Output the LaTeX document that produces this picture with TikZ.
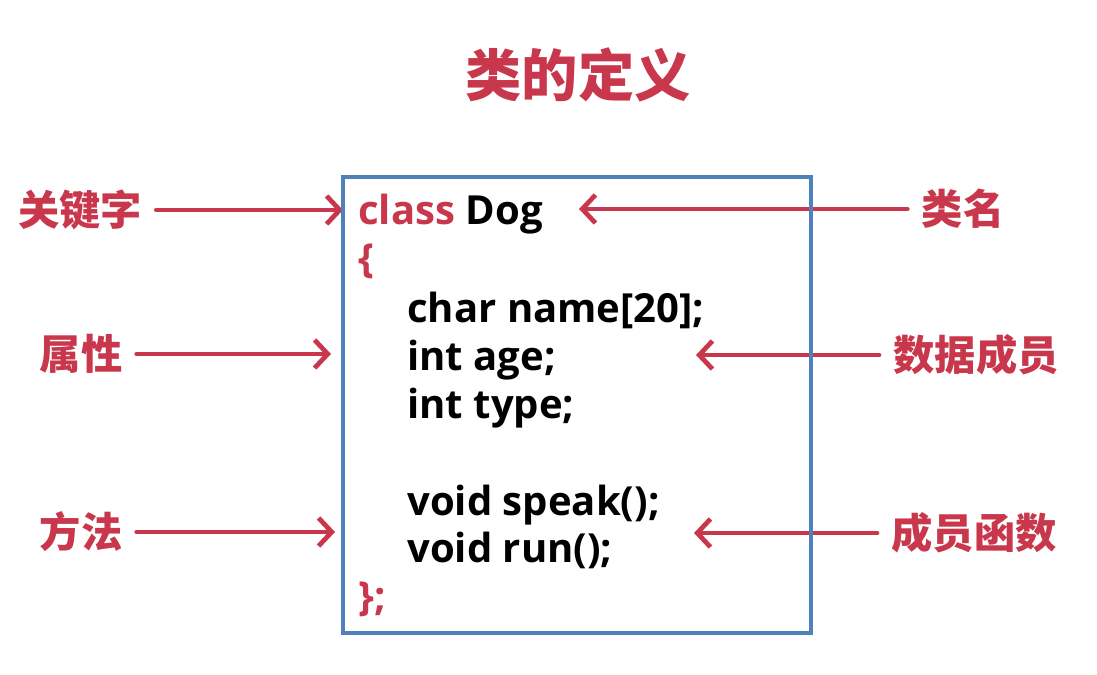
\documentclass[tikz,border=0pt]{standalone}
\usepackage{fontspec}
\setmainfont{Open Sans}
\newfontfamily\cjk{Noto Sans CJK SC}
\usepackage{xcolor}
\usetikzlibrary{arrows.meta}
\definecolor{keyred}{RGB}{200,55,75}
\definecolor{frameblue}{RGB}{79,129,189}

\begin{document}
\begin{tikzpicture}[x=0.02cm,y=-0.02cm]
\useasboundingbox (0,0) rectangle (1097,675);
\tikzset{
  label/.style={text=keyred,font=\cjk\bfseries\fontsize{23.5}{26}\selectfont,inner ysep=0pt,inner xsep=8pt},
  code/.style={anchor=base west,inner sep=0pt,font=\bfseries\fontsize{22.8}{26}\selectfont},
  arr/.style={draw=keyred,line width=2.7pt,line cap=round,-{Straight Barb[length=7.5pt,width=16pt,line width=2.7pt]}}
}
% title
\draw (578,75) node[text=keyred,font=\cjk\bfseries\fontsize{32}{36}\selectfont](title) {类的定义};
% code lines
\draw (358,225) node[code](l1) {\textcolor{keyred}{class} Dog};
\draw (358,273) node[code,text=keyred](l2) {\{};
\draw (407,322) node[code](l3) {char name[20];};
\draw (407,370) node[code](l4) {int age;};
\draw (407,418) node[code](l5) {int type;};
\draw (407,515) node[code](l6) {void speak();};
\draw (407,562) node[code](l7) {void run();};
\draw (358,610) node[code,text=keyred](l8) {\};};
% labels left
\draw (80,210) node[label](kw) {关键字};
\draw (81,354) node[label](attr) {属性};
\draw (81,532) node[label](meth) {方法};
% labels right
\draw (963,209) node[label](cname) {类名};
\draw (976,355) node[label](dmem) {数据成员};
\draw (974,533) node[label](fmem) {成员函数};
% arrow tips
\coordinate (kwtip) at (343,210);
\coordinate (attrtip) at (331,354);
\coordinate (methtip) at (335,532);
\coordinate (cnametip) at (579,209);
\coordinate (dmemtip) at (696,355);
\coordinate (fmemtip) at (694,533);
\draw[arr] (kw) -- (kwtip);
\draw[arr] (attr) -- (attrtip);
\draw[arr] (meth) -- (methtip);
\draw[arr] (cname) -- (cnametip);
\draw[arr] (dmem) -- (dmemtip);
\draw[arr] (fmem) -- (fmemtip);
% frame
\draw[draw=frameblue,line width=2pt] (343,177) rectangle (811,633);
\end{tikzpicture}
\end{document}
